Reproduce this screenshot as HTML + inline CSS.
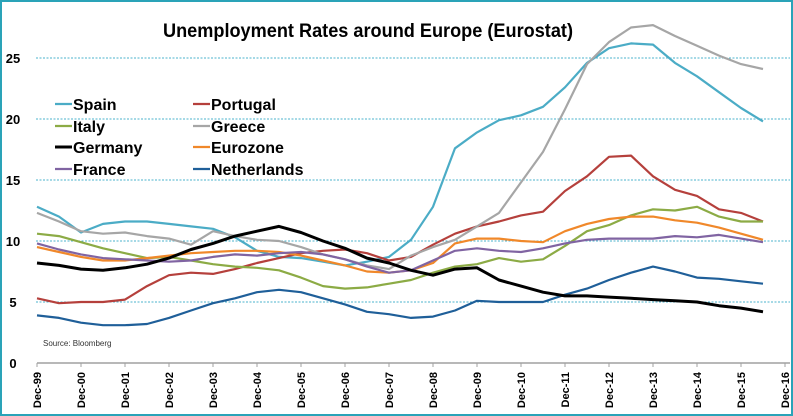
<!DOCTYPE html>
<html><head><meta charset="utf-8"><style>
html,body{margin:0;padding:0;background:#fff;}
svg{display:block;font-family:"Liberation Sans",sans-serif;}
</style></head><body>
<svg id="chart" width="793" height="416" viewBox="0 0 793 416" xmlns="http://www.w3.org/2000/svg">
<rect x="1" y="1" width="791" height="414" fill="#fff" stroke="#2aa3b8" stroke-width="2"/>
<text x="368" y="37" text-anchor="middle" font-size="19" font-weight="bold" fill="#000" textLength="410" lengthAdjust="spacingAndGlyphs">Unemployment Rates around Europe (Eurostat)</text>
<g id="grid"></g><g id="axes"></g><g id="series"></g><g id="legend"></g>
<text x="43" y="346" font-size="8" fill="#333">Source: Bloomberg</text>
</svg>
<script>
const xTickLabels=["Dec-99","Dec-00","Dec-01","Dec-02","Dec-03","Dec-04","Dec-05","Dec-06","Dec-07","Dec-08","Dec-09","Dec-10","Dec-11","Dec-12","Dec-13","Dec-14","Dec-15","Dec-16"];
const yTicks=[0,5,10,15,20,25];
// years since Dec-99, half-year steps
const times=[0,0.5,1,1.5,2,2.5,3,3.5,4,4.5,5,5.5,6,6.5,7,7.5,8,8.5,9,9.5,10,10.5,11,11.5,12,12.5,13,13.5,14,14.5,15,15.5,16,16.5];
const spain=[12.8,12.0,10.7,11.4,11.6,11.6,11.4,11.2,11.0,10.3,9.2,8.7,8.6,8.3,8.0,8.3,8.7,10.1,12.8,17.6,18.9,19.9,20.3,21.0,22.6,24.6,25.8,26.2,26.1,24.6,23.5,22.2,20.9,19.8];
const portugal=[5.3,4.9,5.0,5.0,5.2,6.3,7.2,7.4,7.3,7.7,8.2,8.6,9.0,9.2,9.3,9.0,8.4,8.7,9.7,10.6,11.2,11.6,12.1,12.4,14.1,15.3,16.9,17.0,15.3,14.2,13.7,12.6,12.3,11.6];
const italy=[10.6,10.4,9.9,9.4,9.0,8.6,8.7,8.4,8.1,7.9,7.8,7.6,7.0,6.3,6.1,6.2,6.5,6.8,7.4,7.9,8.1,8.6,8.3,8.5,9.6,10.8,11.3,12.1,12.6,12.5,12.8,12.0,11.6,11.6];
const greece=[12.3,11.6,10.8,10.6,10.7,10.4,10.2,9.7,10.8,10.4,10.1,10.0,9.5,8.9,8.5,8.0,7.7,8.8,9.5,10.1,11.2,12.3,14.8,17.3,20.8,24.5,26.3,27.5,27.7,26.8,26.0,25.2,24.5,24.1];
const germany=[8.2,8.0,7.7,7.6,7.8,8.1,8.6,9.3,9.8,10.4,10.8,11.2,10.7,10.0,9.4,8.6,8.2,7.6,7.2,7.7,7.8,6.8,6.3,5.8,5.5,5.5,5.4,5.3,5.2,5.1,5.0,4.7,4.5,4.2];
const eurozone=[9.5,9.1,8.7,8.4,8.4,8.6,8.8,9.0,9.1,9.2,9.2,9.1,8.8,8.4,8.0,7.5,7.4,7.6,8.2,9.8,10.2,10.2,10.0,9.9,10.8,11.4,11.8,12.0,12.0,11.7,11.5,11.1,10.6,10.1];
const france=[9.8,9.3,8.9,8.6,8.5,8.4,8.3,8.4,8.7,8.9,8.8,9.0,9.1,8.9,8.5,7.9,7.4,7.6,8.4,9.2,9.4,9.2,9.1,9.4,9.8,10.1,10.2,10.2,10.2,10.4,10.3,10.5,10.2,9.9];
const netherlands=[3.9,3.7,3.3,3.1,3.1,3.2,3.7,4.3,4.9,5.3,5.8,6.0,5.8,5.3,4.8,4.2,4.0,3.7,3.8,4.3,5.1,5.0,5.0,5.0,5.6,6.1,6.8,7.4,7.9,7.5,7.0,6.9,6.7,6.5];
const seriesNames=["Spain","Portugal","Italy","Greece","Germany","Eurozone","France","Netherlands"];
const seriesValues=[spain,portugal,italy,greece,germany,eurozone,france,netherlands];
const colors=["#4bacc6","#b5403c","#8cab45","#a6a6a6","#000000","#f0882a","#8064a2","#1f5f99"];
const widths=[2.2,2.2,2.2,2.2,3,2.2,2.2,2.2];

const NS="http://www.w3.org/2000/svg";
const X0=37,XS=44,Y0=363,YS=12.2;
const xs=t=>X0+t*XS, ys=v=>Y0-v*YS;
function mk(tag,attrs,parent){const e=document.createElementNS(NS,tag);for(const k in attrs)e.setAttribute(k,attrs[k]);parent.appendChild(e);return e;}
const grid=document.getElementById('grid'),axes=document.getElementById('axes'),ser=document.getElementById('series'),leg=document.getElementById('legend');
yTicks.forEach(v=>{
  if(v>0){const l=mk('line',{x1:36,x2:790,y1:ys(v),y2:ys(v),stroke:'#4bb3cc','stroke-width':1,'stroke-dasharray':'2,1.5'},grid);
  
  }
  const t=mk('text',{x:13,y:ys(v)+5,'font-size':13,'font-weight':'bold','text-anchor':'middle'},axes);t.textContent=v;
  
  
});
const ax=mk('line',{x1:X0,x2:790,y1:Y0,y2:Y0,stroke:'#a0a0a0','stroke-width':1.5},axes);


xTickLabels.forEach((lab,i)=>{
  const x=xs(i);
  const tk=mk('line',{x1:x,x2:x,y1:Y0,y2:Y0+4,stroke:'#a0a0a0'},axes);
  
  
  const t=mk('text',{x:0,y:0,'font-size':11,'font-weight':'bold','text-anchor':'end',transform:`translate(${x+4},${Y0+9}) rotate(-90)`},axes);t.textContent=lab;
  
  
});
seriesValues.forEach((vals,si)=>{
  const d=vals.map((v,i)=>(i?'L':'M')+xs(times[i]).toFixed(1)+','+ys(v).toFixed(1)).join(' ');
  const p=mk('path',{d:d,fill:'none',stroke:colors[si],'stroke-width':widths[si],'stroke-linejoin':'round'},ser);
  
  
});
ser.appendChild(ser.children[4]);
const legX=[55,193],legY=[104,126,147,169];
seriesNames.forEach((n,i)=>{
  const col=i%2,row=Math.floor(i/2);
  const g=mk('g',{},leg);
  
  
  mk('line',{x1:legX[col],x2:legX[col]+17,y1:legY[row],y2:legY[row],stroke:colors[i],'stroke-width':i==4?3:2.2},g);
  const t=mk('text',{x:legX[col]+18,y:legY[row]+6,'font-size':16,'font-weight':'bold'},g);t.textContent=n;
});
</script>
</body></html>
